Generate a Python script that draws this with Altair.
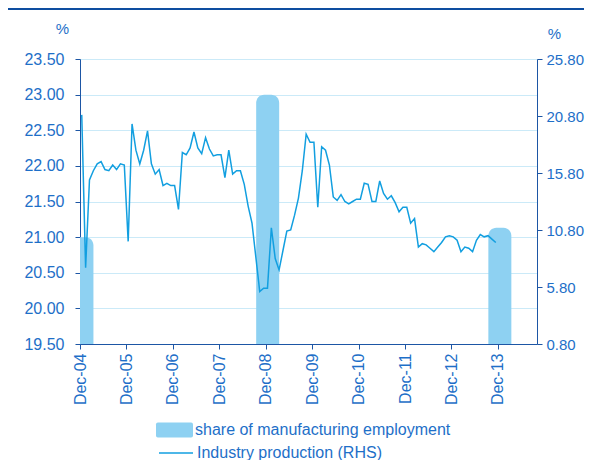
import json
import altair as alt
import pandas as pd

# ---------------- data ----------------
tick_months = [0, 12, 24, 36, 48, 60, 72, 84, 96, 108]
tick_labels = ["Dec-04", "Dec-05", "Dec-06", "Dec-07", "Dec-08",
               "Dec-09", "Dec-10", "Dec-11", "Dec-12", "Dec-13"]

bar_months = [0.5, 48.5, 108.5]
bar_values = [21.0, 23.0, 21.13]

industry = [
    20.9, 7.5, 15.2, 16.0, 16.6, 16.8, 16.1, 16.0, 16.5, 16.1, 16.6, 16.5,
    9.8, 20.1, 17.8, 16.6, 17.8, 19.5, 16.6, 15.7, 16.1, 14.7, 14.9, 14.7,
    14.7, 12.6, 17.6, 17.4, 18.0, 19.4, 18.0, 17.5, 18.9, 17.9, 17.3, 17.4,
    17.4, 15.4, 17.8, 15.7, 16.0, 16.0, 14.8, 12.9, 11.4, 8.4, 5.4, 5.7,
    5.7, 11.0, 8.3, 7.3, 9.0, 10.7, 10.8, 12.1, 13.6, 16.0, 19.2, 18.5,
    18.5, 12.8, 18.1, 17.8, 16.5, 13.7, 13.4, 13.9, 13.3, 13.1, 13.3, 13.5,
    13.5, 14.9, 14.8, 13.3, 13.3, 15.1, 14.0, 13.5, 13.8, 13.2, 12.4, 12.8,
    12.8, 11.4, 11.8, 9.3, 9.6, 9.5, 9.2, 8.9, 9.3, 9.7, 10.2, 10.3,
    10.2, 9.9, 8.9, 9.3, 9.2, 8.9, 9.9, 10.4, 10.2, 10.3, 10.0, 9.7,
]
line_months = [i + 0.45 for i in range(len(industry))]

left_ticks = [19.5, 20.0, 20.5, 21.0, 21.5, 22.0, 22.5, 23.0, 23.5]
right_ticks = [0.8, 5.8, 10.8, 15.8, 20.8, 25.8]

bar_name = "share of manufacturing employment"
line_name = "Industry production (RHS)"

# ---------------- styles ----------------
FONT = "Liberation Sans"
LABEL = "#1E6FC8"
AXIS = "#1D56A5"
BAR = "#8ED1F2"
LINE = "#129FE0"
GRID = "#CBEAF8"

df_bar = pd.DataFrame({"m": bar_months, "v": bar_values, "s": [bar_name] * 3})
df_line = pd.DataFrame({"m": line_months, "v": industry, "s": [line_name] * len(industry)})

x_scale = alt.Scale(domain=[0, 118.1], nice=False, zero=False, padding=0)
label_expr = json.dumps(tick_labels) + "[round(datum.value/12)]"

x_axis = alt.Axis(
    values=tick_months, labelExpr=label_expr, labelAngle=270,
    labelAlign="right", labelBaseline="middle", labelPadding=4,
    tickSize=5, grid=False, title=None, domainColor=AXIS, tickColor=AXIS,
    labelFontSize=16, labelColor=LABEL, labelFont=FONT, labelOverlap=False)

bars = alt.Chart(df_bar).mark_bar(
    width=23, clip=True, cornerRadiusTopLeft=8, cornerRadiusTopRight=8
).encode(
    x=alt.X("m:Q", scale=x_scale, axis=x_axis),
    y=alt.Y("v:Q", scale=alt.Scale(domain=[19.5, 23.5], nice=False, zero=False),
            axis=alt.Axis(values=left_ticks, format=".2f", orient="left",
                          tickSize=5, labelPadding=11, grid=True, gridColor=GRID,
                          title="%", titleAngle=0, titleX=-18, titleY=-26,
                          titleAlign="center", titleBaseline="alphabetic",
                          titleFontSize=15, titleFontWeight="normal",
                          titleColor=LABEL, titleFont=FONT,
                          domainColor=AXIS, tickColor=AXIS,
                          labelFontSize=16, labelColor=LABEL, labelFont=FONT)),
    y2=alt.datum(19.5),
    fill=alt.Fill("s:N", scale=alt.Scale(range=[BAR]), legend=alt.Legend(
        orient="none", legendX=76, legendY=352.5, title=None,
        symbolType="M-0.9,-0.4 Q-1,-0.4 -1,-0.3 L-1,0.3 Q-1,0.4 -0.9,0.4 L0.9,0.4 Q1,0.4 1,0.3 L1,-0.3 Q1,-0.4 0.9,-0.4 Z",
        symbolSize=1369, symbolStrokeWidth=0, labelOffset=2, labelLimit=0,
        labelFontSize=16, labelColor=LABEL, labelFont=FONT, padding=0)),
)

line = alt.Chart(df_line).mark_line(strokeWidth=1.5).encode(
    x=alt.X("m:Q", scale=x_scale, axis=x_axis),
    y=alt.Y("v:Q", scale=alt.Scale(domain=[0.8, 25.8], nice=False, zero=False),
            axis=alt.Axis(values=right_ticks, format=".2f", orient="right",
                          tickSize=5, labelPadding=4, grid=False,
                          title="%", titleAngle=0, titleX=17, titleY=-21,
                          titleAlign="center", titleBaseline="alphabetic",
                          titleFontSize=15, titleFontWeight="normal",
                          titleColor=LABEL, titleFont=FONT,
                          domainColor=AXIS, tickColor=AXIS,
                          labelFontSize=15, labelColor=LABEL, labelFont=FONT)),
    stroke=alt.Stroke("s:N", scale=alt.Scale(range=[LINE]), legend=alt.Legend(
        orient="none", legendX=78, legendY=376, title=None,
        symbolType="stroke", symbolSize=1156, symbolStrokeWidth=1.5,
        labelOffset=3, labelLimit=0, labelFontSize=16, labelColor=LABEL,
        labelFont=FONT, padding=0)),
)

top_rule = alt.Chart(pd.DataFrame({"a": [0]})).mark_rule(
    color="#0E4DA0", strokeWidth=2.2
).encode(x=alt.value(-72), x2=alt.value(504), y=alt.value(-50.2))

chart = alt.layer(bars, line, top_rule).resolve_scale(
    y="independent", fill="independent", stroke="independent"
).properties(
    width=457, height=285,
    autosize=alt.AutoSizeParams(type="none"),
    padding={"left": 72, "top": 51, "right": 48, "bottom": 116},
).configure_view(stroke=None).configure(font=FONT)

chart.save("out.html", embed_options={"renderer": "svg", "actions": False})
